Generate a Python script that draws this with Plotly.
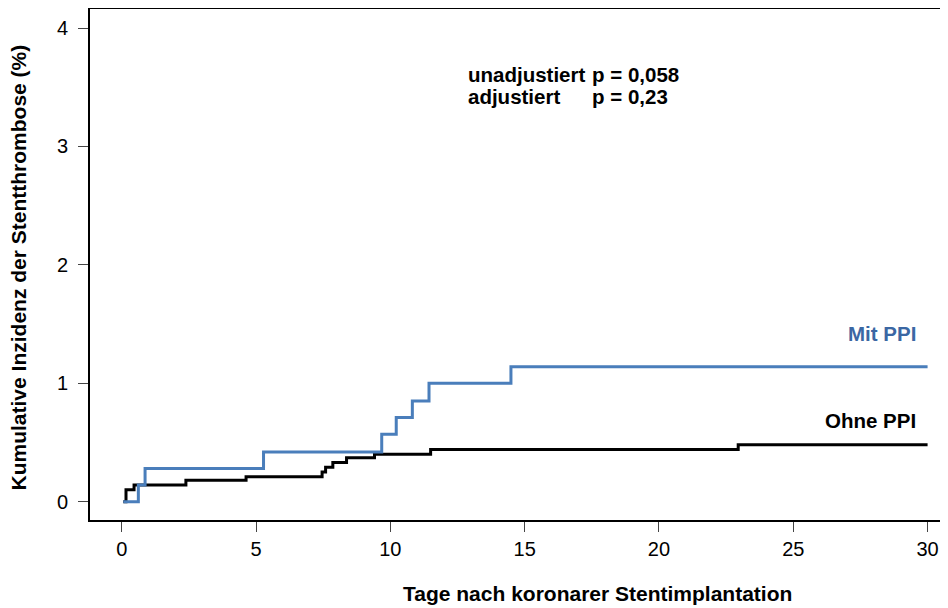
import plotly.graph_objects as go

# Data (days, cumulative incidence %)
t_mit = [0.06, 0.62, 0.87, 5.28, 9.68, 10.22, 10.82, 11.44, 14.49, 30.0]
y_mit = [0.0, 0.14, 0.28, 0.42, 0.57, 0.71, 0.85, 1.00, 1.14, 1.14]

t_ohne = [0.06, 0.16, 0.46, 2.39, 4.63, 7.46, 7.59, 7.86, 8.37, 9.41, 11.5, 22.95, 30.0]
y_ohne = [0.0, 0.10, 0.14, 0.18, 0.21, 0.25, 0.29, 0.33, 0.37, 0.40, 0.44, 0.48, 0.48]

x_ticks = [0, 5, 10, 15, 20, 25, 30]
y_ticks = [0, 1, 2, 3, 4]

label_mit = "Mit PPI"
label_ohne = "Ohne PPI"
p_labels = ["unadjustiert", "adjustiert"]
p_values = ["p = 0,058", "p = 0,23"]
x_title = "Tage nach koronarer Stentimplantation"
y_title = "Kumulative Inzidenz der Stentthrombose (%)"

BLUE_LINE = "#4a7ebb"
BLUE_TEXT = "#3b67a3"
FONT = "Liberation Sans, Arial, sans-serif"
BOLD_SIZE = 20.5
TITLE_SIZE = 21
TICK_SIZE = 20

fig = go.Figure()
fig.add_trace(go.Scatter(x=t_ohne, y=y_ohne, mode="lines", line=dict(color="#000000", width=3, shape="hv"),
                         showlegend=False, hoverinfo="skip"))
fig.add_trace(go.Scatter(x=t_mit, y=y_mit, mode="lines", line=dict(color=BLUE_LINE, width=3, shape="hv"),
                         showlegend=False, hoverinfo="skip"))

fig.update_layout(
    width=940, height=600,
    margin=dict(l=82, r=0, t=1, b=88),
    paper_bgcolor="white", plot_bgcolor="white",
    font=dict(family=FONT, size=TICK_SIZE, color="#000000"),
    xaxis=dict(range=[-1.18, 30.76], tickvals=x_ticks, ticks="outside", ticklen=10, tickwidth=1,
               tickcolor="#444444", showgrid=False, zeroline=False, showline=True, linecolor="#000000",
               linewidth=2, mirror=True, tickfont=dict(size=TICK_SIZE)),
    yaxis=dict(range=[-0.155, 4.161], tickvals=y_ticks, ticks="outside", ticklen=10, tickwidth=1,
               tickcolor="#444444", showgrid=False, zeroline=False, showline=True, linecolor="#000000",
               linewidth=2, mirror=False, tickfont=dict(size=TICK_SIZE), ticklabelstandoff=6),
)

# Axis titles (placed as in the original figure)
fig.add_annotation(x=17.73, y=0, xref="x", yref="paper", yshift=-73, text=f"<b>{x_title}</b>",
                   showarrow=False, xanchor="center", yanchor="middle", font=dict(size=TITLE_SIZE))
fig.add_annotation(x=0, y=1.978, xref="paper", yref="y", xshift=-72, text=f"<b>{y_title}</b>",
                   textangle=-90, showarrow=False, xanchor="center", yanchor="middle",
                   font=dict(size=TITLE_SIZE))

fig.add_annotation(x=29.65, y=1.418, xref="x", yref="y", text=f"<b>{label_mit}</b>", showarrow=False,
                   xanchor="right", yanchor="middle", font=dict(size=BOLD_SIZE, color=BLUE_TEXT))
fig.add_annotation(x=29.65, y=0.684, xref="x", yref="y", text=f"<b>{label_ohne}</b>", showarrow=False,
                   xanchor="right", yanchor="middle", font=dict(size=BOLD_SIZE, color="#000000"))

for lab, pv, yy in zip(p_labels, p_values, [3.612, 3.418]):
    fig.add_annotation(x=12.82, y=yy, xref="x", yref="y", text=f"<b>{lab}</b>", showarrow=False,
                       xanchor="left", yanchor="middle", font=dict(size=BOLD_SIZE))
    fig.add_annotation(x=17.42, y=yy, xref="x", yref="y", text=f"<b>{pv}</b>", showarrow=False,
                       xanchor="left", yanchor="middle", font=dict(size=BOLD_SIZE))

fig.write_html("out.html")
